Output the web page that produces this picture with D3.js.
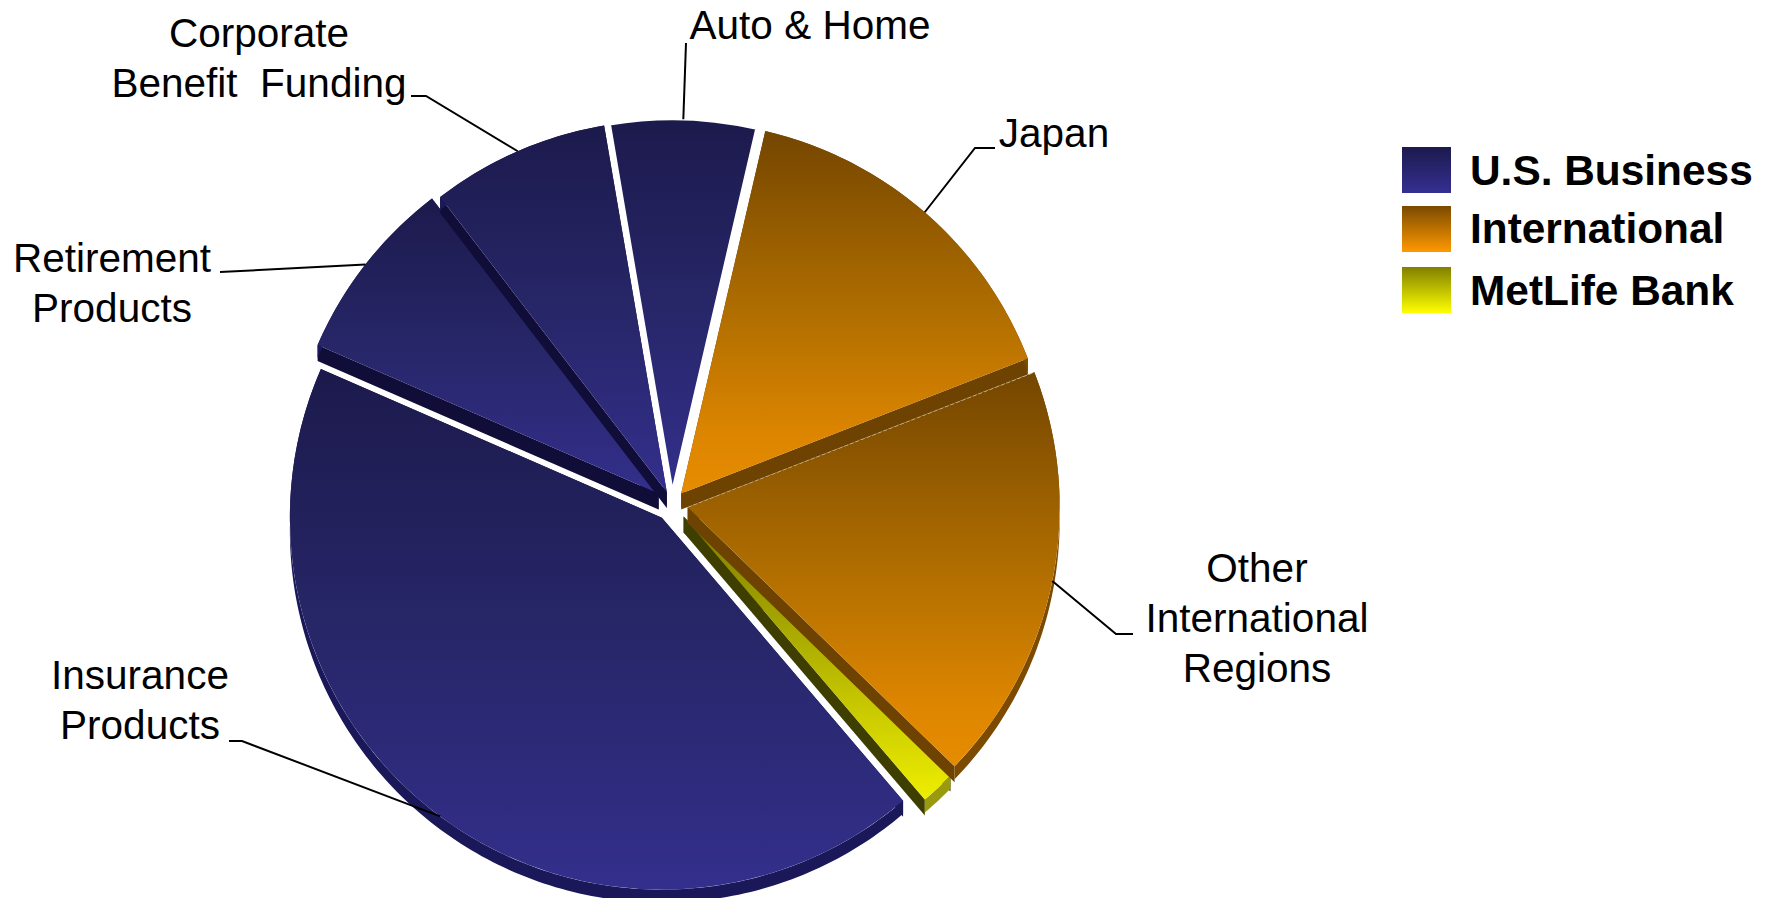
<!DOCTYPE html>
<html>
<head>
<meta charset="utf-8">
<script src="https://cdn.jsdelivr.net/npm/d3@7/dist/d3.min.js"></script>
<style>
  html, body { margin: 0; padding: 0; background: #fff; }
  svg { display: block; }
  text { font-family: "Liberation Sans", Arial, sans-serif; fill: #000; }
</style>
</head>
<body>
<svg id="chart" width="1767" height="898"></svg>
<script>
// Segment shares, clockwise from the Auto & Home wedge
const segments = ["Auto & Home", "Japan", "Other International Regions", "MetLife Bank",
                  "Insurance Products", "Retirement Products", "Corporate Benefit Funding"];
const shares   = [6.3, 15.4, 18.1, 1.5, 42.6, 8.0, 7.7];
const groupOf  = ["us", "intl", "intl", "bank", "us", "us", "us"];
const explode  = [13, 14, 16, 17, 17, 17, 13];

// Legend entries
const legendKeys   = ["us", "intl", "bank"];
const legendLabels = ["U.S. Business", "International", "MetLife Bank"];

// Callout text: lines, text centre, baseline of first line, elbow of the leader, leader's text end
const callouts = [
  { seg: 0, lines: ["Auto & Home"], cx: 810, y: 39, elbow: null, start: [686, 43] },
  { seg: 1, lines: ["Japan"], cx: 1054, y: 147, elbow: [975, 148], start: [995, 148] },
  { seg: 2, lines: ["Other", "International", "Regions"], cx: 1257, y: 582, elbow: [1116, 634], start: [1133, 634] },
  { seg: 4, lines: ["Insurance", "Products"], cx: 140, y: 689, elbow: [242, 741], start: [229, 741] },
  { seg: 5, lines: ["Retirement", "Products"], cx: 112, y: 272, elbow: null, start: [220, 272] },
  { seg: 6, lines: ["Corporate", "Benefit  Funding"], cx: 259, y: 47, elbow: [426, 96], start: [411, 96] }
];

const palette = {
  us:   { stops: [[0, "#1c1a4c"], [0.5, "#272668"], [1, "#332f8c"]], legend: ["#1c1a4e", "#352f92"], wall: "#100e38", rim: "#1a1858" },
  intl: { stops: [[0, "#744600"], [0.5, "#b06e00"], [0.85, "#de8600"], [1, "#e68c00"]], legend: ["#7a4a00", "#ff9900"], wall: "#6e4200", rim: "#7c4a00" },
  bank: { stops: [[0, "#7c7c00"], [0.5, "#b4b400"], [1, "#eeee00"]], legend: ["#808000", "#ffff00"], wall: "#3e3e00", rim: "#9a9a10" }
};

const cx = 672, cy = 504, R = 372, wallDepth = 16, rimDepth = 13;
const startDeg = -9.7;

const svg = d3.select("#chart");
const defs = svg.append("defs");

// Vertical shading for wedge tops, fitted to each wedge's own bounding box
Object.entries(palette).forEach(([k, p]) => {
  const g = defs.append("linearGradient").attr("id", "top-" + k)
    .attr("x1", 0).attr("y1", 0).attr("x2", 0).attr("y2", 1);
  p.stops.forEach(([o, c]) => g.append("stop").attr("offset", o).attr("stop-color", c));
  const l = defs.append("linearGradient").attr("id", "key-" + k)
    .attr("x1", 0).attr("y1", 0).attr("x2", 0).attr("y2", 1);
  l.append("stop").attr("offset", 0).attr("stop-color", p.legend[0]);
  l.append("stop").attr("offset", 1).attr("stop-color", p.legend[1]);
});

const start = startDeg * Math.PI / 180;
const pie = d3.pie().sort(null).startAngle(start).endAngle(start + 2 * Math.PI);
const arcs = pie(shares);
const arc = d3.arc().innerRadius(0).outerRadius(R);

const polar = (a, r) => [r * Math.sin(a), -r * Math.cos(a)];

const wedges = arcs.map((d, i) => {
  const mid = (d.startAngle + d.endAngle) / 2;
  const [ox, oy] = polar(mid, explode[i]);
  return { d, i, mid, ox: cx + ox, oy: cy + oy, key: groupOf[i] };
});

// Wedges nearer the bottom of the disc are painted first; upper walls fall across them
const order = wedges.slice().sort((a, b) => Math.cos(a.mid) - Math.cos(b.mid));

const line = d3.line();
order.forEach(w => {
  const p = palette[w.key];
  const g = svg.append("g").attr("class", "wedge").attr("data-segment", segments[w.i])
    .attr("transform", `translate(${w.ox},${w.oy})`);
  const a0 = w.d.startAngle, a1 = w.d.endAngle;
  const isTopWedge = w.i === 0;

  if (!isTopWedge) {
    // Radial walls
    [a0, a1].forEach(a => {
      const e = polar(a, R);
      g.append("path")
        .attr("d", line([[0, 0], e, [e[0], e[1] + wallDepth], [0, wallDepth]]) + "Z")
        .attr("fill", p.wall);
    });

    // Outer rim
    const n = Math.max(4, Math.ceil((a1 - a0) * 60));
    const upper = d3.range(n + 1).map(k => polar(a0 + (a1 - a0) * k / n, R));
    const lower = upper.slice().reverse().map(q => [q[0], q[1] + rimDepth]);
    g.append("path").attr("d", line(upper.concat(lower)) + "Z").attr("fill", p.rim);
  }

  // Top face; the uppermost wedge keeps a narrow white edge against its neighbours
  const top = g.append("path").attr("d", arc(w.d)).attr("fill", `url(#top-${w.key})`);
  if (isTopWedge) top.attr("stroke", "#fff").attr("stroke-width", 2.5);

  // Fine dashed seam on the upper edge of the Other International wedge
  if (w.i === 2) {
    const e = polar(a0, R);
    g.append("line").attr("x1", 0).attr("y1", 0).attr("x2", e[0]).attr("y2", e[1])
      .attr("stroke", "#e8dcc0").attr("stroke-width", 0.8).attr("stroke-dasharray", "4 2");
  }
});

// Callout leaders and text
const fontSize = 40.5, lineGap = 50;
callouts.forEach(c => {
  const w = wedges[c.seg];
  const e = polar(w.mid, R);
  const pts = [c.start];
  if (c.elbow) pts.push(c.elbow);
  pts.push([w.ox + e[0], w.oy + e[1]]);
  svg.append("path").attr("d", line(pts)).attr("fill", "none")
    .attr("stroke", "#000").attr("stroke-width", 2);
  c.lines.forEach((t, k) => {
    svg.append("text").attr("x", c.cx).attr("y", c.y + k * lineGap)
      .attr("text-anchor", "middle").attr("font-size", fontSize)
      .attr("xml:space", "preserve").style("white-space", "pre").text(t);
  });
});

// Legend
const keyTops = { us: 147, intl: 206, bank: 267 };
const keyBase = { us: 185, intl: 243, bank: 305 };
legendKeys.forEach((k, i) => {
  svg.append("rect").attr("x", 1402).attr("y", keyTops[k]).attr("width", 49).attr("height", 46)
    .attr("fill", `url(#key-${k})`);
  svg.append("text").attr("x", 1470).attr("y", keyBase[k])
    .attr("font-size", 42.4).attr("font-weight", "bold").text(legendLabels[i]);
});
</script>
</body>
</html>
